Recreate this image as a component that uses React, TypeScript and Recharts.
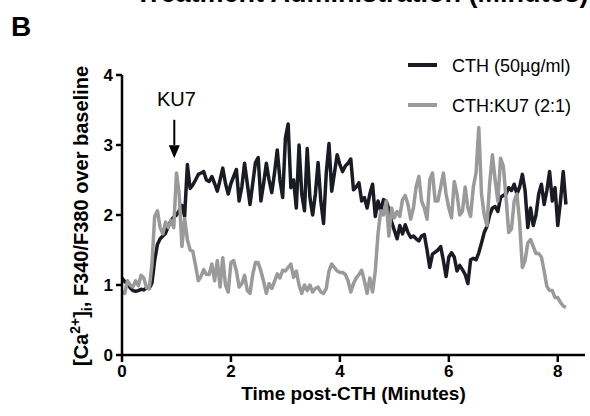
import React from 'react';
import { LineChart, Line, XAxis, YAxis, Legend, ReferenceLine, ReferenceDot } from 'recharts';

// sampling interval of the recording (minutes)
const SAMPLE_STEP_MIN = 0.05;

const cthValues = [
  1.1, 1.05, 1.02, 0.96, 0.92, 0.91, 0.92, 0.94, 0.93, 0.96,
  0.95, 1.03, 1.35, 1.58, 1.66, 1.7, 1.74, 1.84, 1.92, 1.97,
  2.0, 2.06, 2.14, 1.98, 2.72, 2.38, 2.43, 2.5, 2.58, 2.6,
  2.62, 2.5, 2.48, 2.55, 2.45, 2.34, 2.5, 2.67, 2.45, 2.3,
  2.45, 2.55, 2.65, 2.2, 2.4, 2.74, 2.45, 2.15, 2.45, 2.75,
  2.82, 2.2, 2.45, 2.74, 2.5, 2.32, 2.6, 2.93, 2.5, 2.25,
  3.1, 3.3, 2.39, 2.5, 2.1, 3.0, 2.3, 2.06, 2.95, 2.25,
  2.0, 2.3, 2.75, 2.2, 1.88, 2.6, 3.02, 2.34, 2.6, 2.86,
  2.72, 2.62, 2.7, 2.74, 2.8, 2.36, 2.4, 2.46, 2.2, 2.25,
  2.1, 2.3, 2.44, 1.98, 2.2, 2.06, 2.22, 2.2, 2.08, 1.9,
  1.78, 1.66, 1.85, 1.73, 1.86, 1.75, 1.68, 1.7, 1.66, 1.63,
  1.7, 1.72, 1.5, 1.25, 1.44, 1.47, 1.5, 1.55, 1.35, 1.12,
  1.4, 1.46, 1.4, 1.2, 1.28, 1.22, 1.15, 1.02, 1.36, 1.38,
  1.36, 1.46, 1.6, 1.75, 1.84, 2.0, 2.1, 2.12, 2.05, 2.25,
  2.28, 2.3, 2.39, 2.35, 2.44, 2.3, 2.4, 2.58, 2.35, 1.82,
  2.1, 1.85, 2.0, 2.3, 2.44, 2.15, 2.35, 2.62, 2.2, 2.39,
  1.85, 2.2, 2.62, 2.15,
];

const ku7Values = [
  0.9, 0.88, 1.06, 1.0, 0.97, 1.06, 0.99, 1.14, 1.1, 0.96,
  0.95, 1.3, 1.98, 2.06, 1.82, 1.73, 1.9, 1.82, 1.92, 1.82,
  2.6, 2.3, 1.55, 1.95, 1.65, 1.5, 1.48, 1.28, 1.06, 1.12,
  1.22, 1.15, 1.15, 1.3, 1.06, 1.35, 0.97, 1.39, 1.0, 0.9,
  1.32, 1.35, 1.2, 0.97, 1.02, 1.14, 0.92, 0.88, 1.15, 1.32,
  1.32, 1.2, 1.05, 0.88, 1.02, 0.95, 1.05, 1.16, 1.1, 1.21,
  1.2, 1.25, 1.3, 1.11, 1.2, 1.0, 0.88, 1.0, 0.92, 1.0,
  0.9, 0.95, 0.97, 0.9, 0.88, 0.95, 1.2, 1.3, 1.25, 1.2,
  1.18, 1.18, 1.15, 1.06, 0.9, 1.02, 1.1, 1.15, 1.21, 1.06,
  0.88, 1.1, 0.9, 1.2, 1.73, 2.06, 2.0, 2.2, 1.7, 2.1,
  1.96, 2.05, 1.98, 2.22, 2.28, 2.15, 1.94, 2.1, 2.4, 2.55,
  2.2, 2.1, 1.94, 2.5, 2.6, 2.2, 2.2, 2.4, 2.6, 2.3,
  2.1, 1.96, 2.48, 2.3, 2.0, 2.05, 2.4, 2.1, 1.98, 2.4,
  2.6, 3.25, 2.3, 2.0, 1.85, 2.45, 2.86, 2.5, 2.2, 2.81,
  2.7, 2.25, 1.75, 1.8, 2.2, 2.3, 1.9, 1.25, 1.35, 1.6,
  1.65, 1.55, 1.45, 1.45, 1.4, 1.2, 0.98, 0.92, 0.92, 0.82,
  0.82, 0.75, 0.7, 0.68,
];

const xTicks = [0, 2, 4, 6, 8];
const yTicks = [0, 1, 2, 3, 4];
const seriesNames = { cth: 'CTH (50µg/ml)', ku7: 'CTH:KU7 (2:1)' };
const seriesColors = { cth: '#1b1b25', ku7: '#9a9a9a' };
const ku7Marker = { t: 0.96, arrowTop: 3.36, arrowBase: 3.0, arrowTip: 2.81, labelT: 1.0, labelY: 3.56 };

const data = cthValues.map((v, i) => ({
  t: Math.round(i * SAMPLE_STEP_MIN * 100) / 100,
  cth: v,
  ku7: ku7Values[i],
}));

const FONT = '"Liberation Sans", Arial, Helvetica, sans-serif';

const renderLegend = (props: any) => {
  const payload = props.payload || [];
  return (
    <svg width={190} height={80} style={{ display: 'block' }}>
      {payload.map((e: any, i: number) => (
        <g key={String(e.value)}>
          <line x1={8} x2={37} y1={15 + 40 * i} y2={15 + 40 * i} stroke={e.color} strokeWidth={4} />
          <text x={52} y={21.5 + 40 * i} fontSize={18} fontFamily={FONT} fill="#000">
            {e.value}
          </text>
        </g>
      ))}
    </svg>
  );
};

const XLabel = (props: any) => {
  const vb = props.viewBox || { x: 122, y: 355, width: 463, height: 30 };
  return (
    <text x={vb.x + vb.width / 2} y={399.5} textAnchor="middle" fontSize={19} fontWeight={700} fontFamily={FONT} fill="#000">
      Time post-CTH (Minutes)
    </text>
  );
};

const YLabel = (props: any) => {
  const vb = props.viewBox || { x: 62, y: 75, width: 60, height: 280 };
  const cx = 88;
  const cy = vb.y + vb.height / 2 + 1;
  return (
    <text
      x={cx}
      y={cy}
      transform={`rotate(-90 ${cx} ${cy})`}
      textAnchor="middle"
      fontSize={20}
      fontWeight={700}
      fontFamily={FONT}
      fill="#000"
    >
      [Ca
      <tspan fontSize={14} dy={-8}>2+</tspan>
      <tspan dy={8}>]</tspan>
      <tspan fontSize={14} dy={4}>i</tspan>
      <tspan dy={-4}>, F340/F380 over baseline</tspan>
    </text>
  );
};

const ArrowHead = (props: any) => {
  const { cx, cy } = props;
  if (cx == null || cy == null) return <g />;
  return <path d={`M${cx - 5.5},${cy - 13} L${cx + 5.5},${cy - 13} L${cx},${cy} Z`} fill="#000" />;
};

const KU7Text = (props: any) => {
  const { cx, cy } = props;
  if (cx == null || cy == null) return <g />;
  return (
    <text x={cx} y={cy} textAnchor="middle" fontSize={20} fontFamily={FONT} fill="#000">
      KU7
    </text>
  );
};

export default function App() {
  const axisStyle = { stroke: '#000', strokeWidth: 2.5 };
  const tickStyle = { fill: '#000', fontSize: 17, fontWeight: 700, fontFamily: FONT };
  return (
    <div style={{ position: 'absolute', left: 0, top: 0, width: 590, height: 416, background: '#fff', overflow: 'hidden' }}>
      <div
        style={{
          position: 'absolute',
          left: 135,
          top: -20,
          fontFamily: FONT,
          fontWeight: 700,
          fontSize: 27,
          lineHeight: '27px',
          whiteSpace: 'nowrap',
          color: '#000',
        }}
      >
        Treatment Administration (Minutes)
      </div>
      <div
        style={{
          position: 'absolute',
          left: 11,
          top: 13,
          fontFamily: FONT,
          fontWeight: 700,
          fontSize: 28,
          lineHeight: '28px',
          color: '#000',
        }}
      >
        B
      </div>
      <LineChart width={590} height={416} data={data} margin={{ top: 75, right: 5, bottom: 31, left: 62 }}>
        <XAxis
          dataKey="t"
          type="number"
          domain={[0, 8.5]}
          ticks={xTicks}
          allowDataOverflow
          height={30}
          axisLine={axisStyle}
          tickLine={axisStyle}
          tickSize={7}
          tickMargin={3}
          tick={tickStyle}
          label={<XLabel />}
        />
        <YAxis
          type="number"
          domain={[0, 4]}
          ticks={yTicks}
          width={60}
          axisLine={axisStyle}
          tickLine={axisStyle}
          tickSize={6}
          tickMargin={3}
          tick={tickStyle}
          label={<YLabel />}
        />
        <Legend
          layout="horizontal"
          verticalAlign="middle"
          align="center"
          wrapperStyle={{ position: 'absolute', left: 400, top: 50, width: 190, height: 80 }}
          content={renderLegend}
        />
        <Line
          type="linear"
          dataKey="cth"
          name={seriesNames.cth}
          stroke={seriesColors.cth}
          strokeWidth={3.5}
          strokeLinejoin="round"
          dot={false}
          isAnimationActive={false}
        />
        <Line
          type="linear"
          dataKey="ku7"
          name={seriesNames.ku7}
          stroke={seriesColors.ku7}
          strokeWidth={3.5}
          strokeLinejoin="round"
          dot={false}
          isAnimationActive={false}
        />
        <ReferenceLine
          segment={[
            { x: ku7Marker.t, y: ku7Marker.arrowTop },
            { x: ku7Marker.t, y: ku7Marker.arrowBase },
          ]}
          stroke="#000"
          strokeWidth={2}
        />
        <ReferenceDot x={ku7Marker.t} y={ku7Marker.arrowTip} r={0} shape={<ArrowHead />} />
        <ReferenceDot x={ku7Marker.labelT} y={ku7Marker.labelY} r={0} shape={<KU7Text />} />
      </LineChart>
    </div>
  );
}
